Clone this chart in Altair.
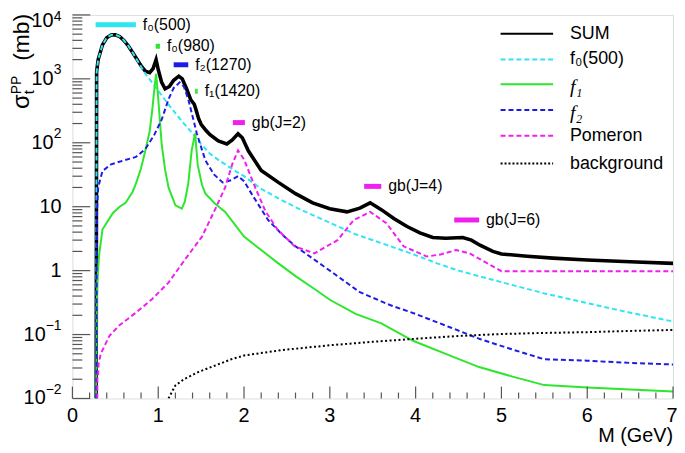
import altair as alt
import pandas as pd

# ---------------- data ----------------
sum_m = [0.277, 0.282, 0.30, 0.35, 0.40, 0.45, 0.50, 0.55, 0.60, 0.65, 0.70, 0.75, 0.80, 0.85, 0.90, 0.94,
         0.975, 1.00, 1.04, 1.08, 1.13, 1.18, 1.24, 1.28, 1.33, 1.38, 1.42, 1.44, 1.47, 1.50, 1.55, 1.60,
         1.70, 1.80, 1.86, 1.93, 1.98, 2.05, 2.2, 2.4, 2.6, 2.8, 3.0, 3.2, 3.35, 3.47, 3.6, 3.75, 3.9, 4.05,
         4.2, 4.35, 4.55, 4.65, 4.75, 4.9, 5.0, 5.3, 5.6, 6.0, 6.5, 7.0]
sum_v = [0.01, 1300, 2000, 3400, 4400, 4850, 4900, 4600, 4000, 3300, 2600, 2050, 1600, 1320, 1250, 1450,
         2000, 1400, 880, 700, 760, 950, 1100, 1000, 700, 470, 400, 330, 240, 195, 160, 135,
         107, 96, 110, 138, 120, 75, 37, 24, 16, 11.5, 9.3, 8.3, 9.5, 11.5, 9, 6.5, 4.9, 3.9,
         3.3, 3.2, 3.3, 3.0, 2.5, 2.0, 1.82, 1.68, 1.57, 1.47, 1.38, 1.30]

f0_m = [0.277, 0.282, 0.30, 0.35, 0.40, 0.45, 0.50, 0.55, 0.60, 0.65, 0.70, 0.75, 0.80, 0.85, 0.90, 1.0,
        1.1, 1.2, 1.3, 1.4, 1.5, 1.6, 1.7, 1.8, 1.9, 2.0, 2.2, 2.4, 2.6, 2.8, 3.0, 3.3, 3.6, 4.0, 4.25,
        4.5, 5.0, 5.5, 6.0, 6.5, 7.0]
f0_v = [0.01, 1300, 2000, 3400, 4400, 4850, 4900, 4600, 4000, 3300, 2600, 2000, 1550, 1200, 980, 650,
        430, 290, 200, 140, 95, 68, 54, 44, 36, 30, 19, 13.5, 9.8, 7.4, 5.6, 3.7, 2.7, 1.75, 1.3,
        1.0, 0.66, 0.44, 0.31, 0.22, 0.16]

f1_m = [0.277, 0.284, 0.29, 0.31, 0.35, 0.47, 0.55, 0.62, 0.70, 0.74, 0.80, 0.85, 0.90, 0.93, 0.955,
        0.975, 0.995, 1.04, 1.08, 1.12, 1.2, 1.275, 1.31, 1.35, 1.39, 1.43, 1.46, 1.51, 1.55, 1.66,
        1.78, 2.0, 2.2, 2.4, 2.6, 2.8, 3.0, 3.3, 3.6, 3.97, 4.35, 4.74, 5.13, 5.5, 6.0, 6.5, 7.0]
f1_v = [0.01, 0.3, 0.65, 1.7, 4.4, 7.9, 10, 11.5, 17, 23, 40, 76, 150, 320, 700,
        1200, 600, 96, 38, 20, 10.5, 9.3, 12, 23, 76, 140, 45, 22, 16, 11.2,
        8.3, 3.4, 2.1, 1.3, 0.82, 0.54, 0.35, 0.21, 0.15, 0.08, 0.05, 0.031, 0.022, 0.0162, 0.0149,
        0.0138, 0.0129]

f2_m = [0.277, 0.285, 0.30, 0.35, 0.45, 0.6, 0.74, 0.85, 0.95, 1.04, 1.12, 1.18, 1.25, 1.30, 1.35,
        1.40, 1.45, 1.50, 1.55, 1.65, 1.75, 1.85, 1.93, 2.0, 2.1, 2.28, 2.45, 2.6, 2.8, 3.0, 3.35,
        3.7, 4.0, 4.4, 4.75, 5.1, 5.5, 6.0, 6.5, 7.0]
f2_v = [0.01, 8, 20, 36, 46, 53, 60, 80, 130, 230, 480, 720, 880, 750, 480,
        260, 140, 85, 53, 32, 24, 26, 30, 25, 15, 6.2, 3.6, 2.4, 1.55, 1.0, 0.46,
        0.29, 0.21, 0.13, 0.085, 0.06, 0.041, 0.039, 0.036, 0.034]

pom_m = [0.29, 0.292, 0.30, 0.305, 0.33, 0.43, 0.54, 0.74, 0.93, 1.12, 1.31, 1.51, 1.66, 1.78, 1.86,
         1.93, 2.0, 2.13, 2.25, 2.39, 2.59, 2.82, 3.09, 3.28, 3.47, 3.66, 3.86, 4.13, 4.3, 4.47, 4.63,
         5.0, 7.0]
pom_v = [0.01, 0.024, 0.024, 0.035, 0.05, 0.095, 0.137, 0.22, 0.36, 0.65, 1.48, 3.4, 8.9, 20, 45,
         76, 55, 20, 8.5, 4.4, 2.4, 1.86, 3.0, 6.2, 8.3, 5.5, 2.4, 1.66, 1.8, 2.1, 1.86,
         0.98, 0.98]

bg_m = [1.12, 1.2, 1.3, 1.47, 1.85, 2.0, 2.43, 3.0, 3.5, 4.0, 4.5, 5.0, 5.5, 6.0, 6.5, 7.0]
bg_v = [0.01, 0.016, 0.02, 0.026, 0.041, 0.047, 0.057, 0.068, 0.077, 0.086, 0.095, 0.102, 0.106,
        0.109, 0.114, 0.118]

# resonance annotations (bar from x1 to x2 at height y, label after it)
ann_label = ["f₀(500)", "f₀(980)", "f₂(1270)", "f₁(1420)", "gb(J=2)", "gb(J=4)", "gb(J=6)"]
ann_x1 = [0.27, 0.97, 1.18, 1.43, 1.87, 3.40, 4.45]
ann_x2 = [0.74, 1.02, 1.35, 1.46, 2.01, 3.60, 4.74]
ann_y = [7000, 3240, 1660, 640, 207, 20.8, 6.2]

# axis ticks
x_major = [0, 1, 2, 3, 4, 5, 6, 7]
x_minor = [round(i * 0.2, 1) for i in range(36) if i % 5 != 0]
y_major = [0.01, 0.1, 1, 10, 100, 1000, 10000]
y_minor = [m * d for d in [0.01, 0.1, 1, 10, 100, 1000] for m in range(2, 10)]
y_base = ["10", "10", "1", "10", "10", "10", "10"]
y_exp = ["−2", "−1", "", "", "2", "3", "4"]

# legend
leg_names = ["SUM", "f₀(500)", "f₁", "f₂", "Pomeron", "background"]

# ---------------- chart ----------------
W, H = 606, 387
FONT = "Liberation Sans"
xs = alt.Scale(domain=[0, 7], nice=False, zero=False)
ys = alt.Scale(type="log", domain=[0.01, 10000], nice=False)

C_CYAN = "#2ee6f2"
C_GREEN = "#2ee62e"
C_BLUE = "#1c1ce6"
C_MAG = "#f01ef0"

series = [
    (sum_m, sum_v, "black", 3.6, None),
    (f0_m, f0_v, C_CYAN, 2, [5, 3]),
    (f1_m, f1_v, C_GREEN, 2, None),
    (f2_m, f2_v, C_BLUE, 2, [5, 3]),
    (pom_m, pom_v, C_MAG, 2, [5, 3]),
    (bg_m, bg_v, "black", 2, [2, 2.5]),
]

layers = []
for m, v, col, w, dash in series:
    df = pd.DataFrame({"M": m, "s": v})
    kw = dict(color=col, strokeWidth=w, clip=True)
    if dash:
        kw["strokeDash"] = dash
    layers.append(alt.Chart(df).mark_line(**kw).encode(
        x=alt.X("M:Q", scale=xs, axis=None), y=alt.Y("s:Q", scale=ys, axis=None), order="M:Q"))

# ticks (inside, ROOT style)
tick_col = "#555555"
layers.append(alt.Chart(pd.DataFrame({"v": x_major})).mark_rule(color=tick_col, strokeWidth=1.2).encode(
    x=alt.X("v:Q", scale=xs, axis=None), y=alt.value(H), y2=alt.value(H - 12)))
layers.append(alt.Chart(pd.DataFrame({"v": x_minor})).mark_rule(color=tick_col, strokeWidth=1.2).encode(
    x=alt.X("v:Q", scale=xs, axis=None), y=alt.value(H), y2=alt.value(H - 6)))
layers.append(alt.Chart(pd.DataFrame({"v": y_major})).mark_rule(color=tick_col, strokeWidth=1.2).encode(
    y=alt.Y("v:Q", scale=ys, axis=None), x=alt.value(0), x2=alt.value(18)))
layers.append(alt.Chart(pd.DataFrame({"v": y_minor})).mark_rule(color=tick_col, strokeWidth=1.2).encode(
    y=alt.Y("v:Q", scale=ys, axis=None), x=alt.value(0), x2=alt.value(10)))

# x tick labels
xl = pd.DataFrame({"v": x_major})
layers.append(alt.Chart(xl).transform_filter(alt.datum.v < 7).mark_text(
    align="center", baseline="middle", fontSize=20, font=FONT, color="black").encode(
    x=alt.X("v:Q", scale=xs, axis=None), y=alt.value(H + 18), text=alt.Text("v:Q", format="d")))
layers.append(alt.Chart(xl).transform_filter(alt.datum.v == 7).mark_text(
    align="center", baseline="middle", fontSize=20, font=FONT, color="black", dx=-1).encode(
    x=alt.X("v:Q", scale=xs, axis=None), y=alt.value(H + 18), text=alt.Text("v:Q", format="d")))

# y tick labels with exponents
ylab = pd.DataFrame({"v": y_major, "b": y_base, "e": y_exp})
ylab["n"] = ylab["e"].str.len()
for n, xr in [(0, -11), (1, -19), (2, -27)]:
    layers.append(alt.Chart(ylab).transform_filter(
        (alt.datum.n == n) & (alt.datum.v < 5000)).mark_text(
        align="right", baseline="middle", fontSize=20, font=FONT, color="black").encode(
        y=alt.Y("v:Q", scale=ys, axis=None), x=alt.value(xr), text="b:N"))
layers.append(alt.Chart(ylab).transform_filter(
    (alt.datum.n > 0) & (alt.datum.v < 5000)).mark_text(
    align="right", baseline="middle", fontSize=14, font=FONT, color="black", dy=-9).encode(
    y=alt.Y("v:Q", scale=ys, axis=None), x=alt.value(-11), text="e:N"))
# top label kept inside the page
layers.append(alt.Chart(ylab).transform_filter(alt.datum.v > 5000).mark_text(
    align="right", baseline="middle", fontSize=20, font=FONT, color="black", dy=6).encode(
    y=alt.Y("v:Q", scale=ys, axis=None), x=alt.value(-19), text="b:N"))
layers.append(alt.Chart(ylab).transform_filter(alt.datum.v > 5000).mark_text(
    align="right", baseline="middle", fontSize=14, font=FONT, color="black", dy=2).encode(
    y=alt.Y("v:Q", scale=ys, axis=None), x=alt.value(-11), text="e:N"))

# axis titles
one = pd.DataFrame({"a": [0]})
layers.append(alt.Chart(one).mark_text(text="M (GeV)", align="right", baseline="middle", fontSize=20,
                                       font=FONT, color="black").encode(
    x=alt.value(W), y=alt.value(H + 38)))
# y title: σ_t^PP(mb), rotated, read bottom to top
ytitle = [
    ("σ", 24, "left", -51, 95),
    ("t", 15, "left", -44, 80),
    ("PP", 14, "left", -56, 80),
    ("(mb)", 23, "right", -51, -1),
]
for txt, fs, al, xx, yy in ytitle:
    layers.append(alt.Chart(one).mark_text(text=txt, align=al, baseline="middle", fontSize=fs,
                                           font=FONT, color="black", angle=270).encode(
        x=alt.value(xx), y=alt.value(yy)))

# annotations
ann = pd.DataFrame({"label": ann_label, "x1": ann_x1, "x2": ann_x2, "y": ann_y})
ann_colors = [C_CYAN, C_GREEN, C_BLUE, C_GREEN, C_MAG, C_MAG, C_MAG]
layers.append(alt.Chart(ann).mark_rule(strokeWidth=5).encode(
    x=alt.X("x1:Q", scale=xs, axis=None), x2="x2:Q", y=alt.Y("y:Q", scale=ys, axis=None),
    color=alt.Color("label:N", scale=alt.Scale(domain=ann_label, range=ann_colors), legend=None)))
layers.append(alt.Chart(ann).mark_text(align="left", baseline="middle", dx=7, fontSize=16, font=FONT,
                                       color="black").encode(
    x=alt.X("x2:Q", scale=xs, axis=None), y=alt.Y("y:Q", scale=ys, axis=None), text="label:N"))

# legend (drawn manually)
leg_style = [
    ("black", 2, None, FONT, "normal"),
    (C_CYAN, 2, [5, 3], FONT, "normal"),
    (C_GREEN, 2, None, "Liberation Serif", "italic"),
    (C_BLUE, 2, [5, 3], "Liberation Serif", "italic"),
    (C_MAG, 2, [5, 3], FONT, "normal"),
    ("black", 2, [2, 2], FONT, "normal"),
]
leg_y = [19, 45, 70, 96, 122, 150]
for name, (col, w, dash, fnt, sty), ly in zip(leg_names, leg_style, leg_y):
    kw = dict(color=col, strokeWidth=w)
    if dash:
        kw["strokeDash"] = dash
    layers.append(alt.Chart(one).mark_rule(**kw).encode(
        x=alt.value(432), x2=alt.value(485), y=alt.value(ly)))
    fs = 20 if sty == "italic" else 18
    layers.append(alt.Chart(one).mark_text(text=name, align="left", baseline="middle", fontSize=fs,
                                           font=fnt, fontStyle=sty, color="black").encode(
        x=alt.value(502), y=alt.value(ly + (3 if sty == "italic" else 0))))

chart = alt.layer(*layers).properties(
    width=W, height=H,
    autosize=alt.AutoSizeParams(type="none"),
    padding={"left": 65, "top": 5, "right": 4, "bottom": 50},
).configure_view(stroke="#555555", strokeWidth=1.5).configure(background="white")

chart.save("out.html", embed_options={"renderer": "svg", "actions": False})
